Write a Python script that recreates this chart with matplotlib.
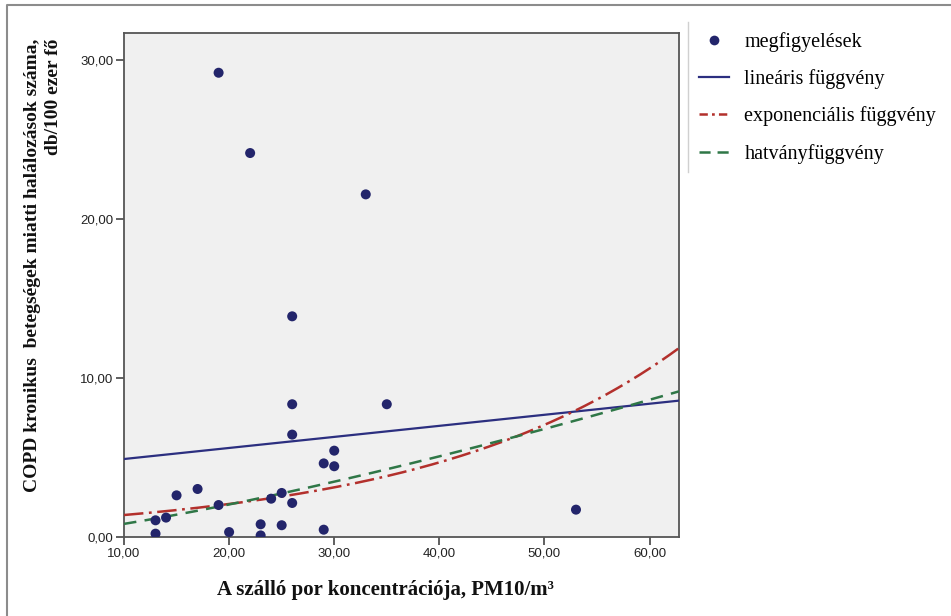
import numpy as np
import matplotlib
matplotlib.use("Agg")
import matplotlib.pyplot as plt
from matplotlib.lines import Line2D
from matplotlib.ticker import FuncFormatter

# ---- data ----
pm10 = [13, 13, 14, 15, 17, 19, 19, 20, 22, 23, 23, 24, 25, 25,
        26, 26, 26, 26, 29, 29, 30, 30, 33, 35, 53]
copd = [1.05, 0.21, 1.22, 2.62, 3.02, 2.01, 29.2, 0.31, 24.15, 0.80, 0.10, 2.41, 2.77, 0.74,
        13.88, 8.35, 6.44, 2.14, 4.63, 0.46, 5.43, 4.45, 21.55, 8.35, 1.72]

legend_labels = ["megfigyelések", "lineáris függvény",
                 "exponenciális függvény", "hatványfüggvény"]
xlabel = "A szálló por koncentrációja, PM10/m³"
ylabel = "COPD kronikus  betegségek miatti halálozások száma,\ndb/100 ezer fő"
xticks = [10, 20, 30, 40, 50, 60]
yticks = [0, 10, 20, 30]

x = np.array(pm10, dtype=float)
y = np.array(copd, dtype=float)

# ---- curve fits (as SPSS curve estimation) ----
lin_b, lin_a = np.polyfit(x, y, 1)
exp_b1, exp_lnb0 = np.polyfit(x, np.log(y), 1)
pow_b1, pow_lnb0 = np.polyfit(np.log(x), np.log(y), 1)

plt.rcParams["lines.scale_dashes"] = False
serif = ["Liberation Serif", "DejaVu Serif"]
sans = ["Liberation Sans", "DejaVu Sans"]

fig = plt.figure(figsize=(9.51, 6.16), dpi=100)
ax = fig.add_axes([124 / 951, 1 - 537 / 616, 555 / 951, 504 / 616])
ax.set_facecolor("#f0f0f0")

XMIN, XMAX = 10, 62.8
YMIN, YMAX = 0, 31.7
ax.set_xlim(XMIN, XMAX)
ax.set_ylim(YMIN, YMAX)

xs = np.linspace(XMIN, XMAX, 300)
navy = "#23256b"
ax.plot(xs, lin_a + lin_b * xs, color="#2c2f80", lw=1.6, zorder=3)
ax.plot(xs, np.exp(exp_lnb0 + exp_b1 * xs), color="#b3302c", lw=1.8,
        dashes=(14, 4, 2, 4), zorder=3)
ax.plot(xs, np.exp(pow_lnb0) * xs ** pow_b1, color="#2f7747", lw=1.8,
        dashes=(9, 6), zorder=3)
ax.scatter(x, y, s=52, color=navy, edgecolors="none", zorder=4)

for sp in ax.spines.values():
    sp.set_color("#555555")
    sp.set_linewidth(1.3)

fmt = FuncFormatter(lambda v, p: f"{v:.2f}".replace(".", ","))
ax.set_xticks(xticks)
ax.set_yticks(yticks)
ax.xaxis.set_major_formatter(fmt)
ax.yaxis.set_major_formatter(fmt)
ax.tick_params(axis="both", direction="out", length=6, width=1.2,
               color="#444444", labelsize=9.5, labelcolor="#222222", pad=1.5)
for lab in ax.get_xticklabels() + ax.get_yticklabels():
    lab.set_family(sans)

fig.text(385 / 951, 1 - 590 / 616, xlabel, ha="center", va="center",
         fontsize=15, fontweight="bold", family=serif, color="#111111")
fig.text(43 / 951, 1 - 265 / 616, ylabel, ha="center", va="center",
         rotation=90, multialignment="right",
         fontsize=14, fontweight="bold", family=serif, color="#111111",
         linespacing=1.25)

handles = [
    Line2D([], [], ls="none", marker="o", ms=7, color=navy, markeredgewidth=0),
    Line2D([], [], color="#2c2f80", lw=1.6),
    Line2D([], [], color="#b3302c", lw=1.8, dashes=(6, 3, 2, 3)),
    Line2D([], [], color="#2f7747", lw=1.8, dashes=(8, 5)),
]
fig.legend(handles, legend_labels, loc="upper left",
           bbox_to_anchor=(699 / 951, 1 - 32 / 616), frameon=False,
           prop={"family": serif, "size": 14.5}, handlelength=1.5,
           handletextpad=0.75, labelspacing=0.86, borderaxespad=0,
           borderpad=0)

# legend box edge and figure frame
fig.add_artist(Line2D([688 / 951, 688 / 951], [1 - 22 / 616, 1 - 172 / 616],
                      color="#d0d0d0", lw=1, transform=fig.transFigure))
fig.add_artist(Line2D([7 / 951, 7 / 951, 951 / 951], [0, 1 - 5 / 616, 1 - 5 / 616],
                      color="#8c8c8c", lw=1.5, transform=fig.transFigure))

fig.savefig("out.png", dpi=100, facecolor="white")
